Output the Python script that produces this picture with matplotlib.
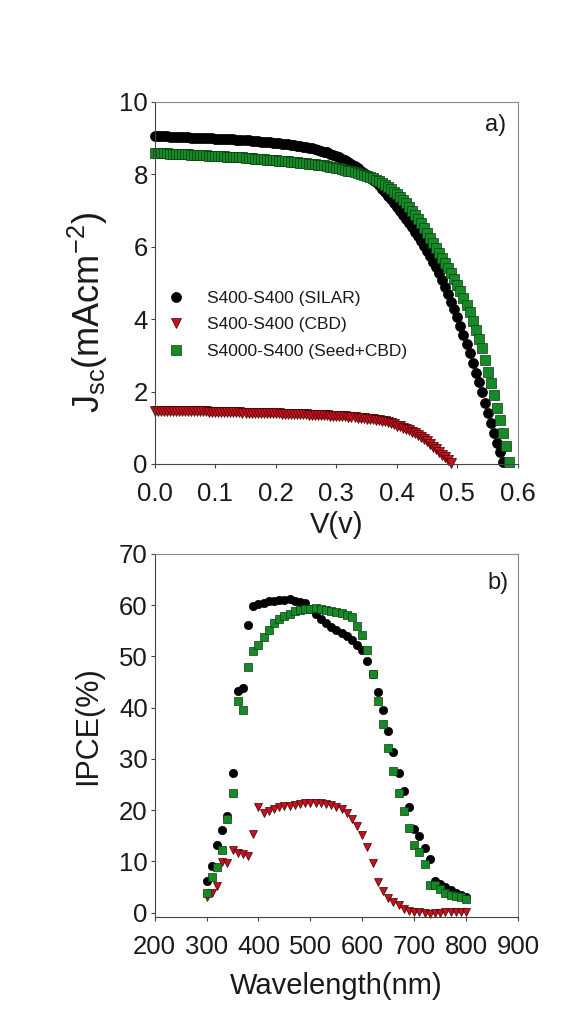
import numpy as np
import matplotlib
matplotlib.use('Agg')
import matplotlib.pyplot as plt

matplotlib.rcParams['font.family'] = 'Liberation Sans'
matplotlib.rcParams['mathtext.fontset'] = 'custom'
matplotlib.rcParams['mathtext.rm'] = 'Liberation Sans'
matplotlib.rcParams['mathtext.it'] = 'Liberation Sans:italic'

labels = ['S400-S400 (SILAR)', 'S400-S400 (CBD)', 'S4000-S400 (Seed+CBD)']

# ---- (a) J-V, voltage sweep from 0 V in 5 mV steps
v_step = 0.005
j_silar = [9.05, 9.05, 9.04, 9.04, 9.04, 9.03, 9.03, 9.03, 9.02, 9.02,
           9.02, 9.02, 9.01, 9.01, 9.01, 9.00, 9.00, 9.00, 8.99, 8.99,
           8.98, 8.98, 8.98, 8.97, 8.97, 8.96, 8.96, 8.95, 8.95, 8.94,
           8.93, 8.93, 8.92, 8.92, 8.91, 8.90, 8.90, 8.89, 8.88, 8.87,
           8.86, 8.85, 8.84, 8.83, 8.82, 8.81, 8.80, 8.79, 8.77, 8.76,
           8.74, 8.73, 8.71, 8.69, 8.67, 8.65, 8.62, 8.60, 8.57, 8.54,
           8.50, 8.46, 8.42, 8.38, 8.33, 8.28, 8.22, 8.16, 8.10, 8.04,
           7.98, 7.92, 7.85, 7.77, 7.69, 7.60, 7.50, 7.41, 7.31, 7.21,
           7.10, 6.99, 6.88, 6.77, 6.65, 6.53, 6.40, 6.28, 6.15, 6.01,
           5.87, 5.73, 5.58, 5.43, 5.27, 5.08, 4.88, 4.68, 4.48, 4.27,
           4.05, 3.81, 3.56, 3.31, 3.05, 2.78, 2.52, 2.25, 1.98, 1.69,
           1.40, 1.13, 0.85, 0.59, 0.33, 0.06]
j_cbd = [1.47, 1.47, 1.47, 1.47, 1.47, 1.46, 1.46, 1.46, 1.46, 1.46,
         1.46, 1.46, 1.45, 1.45, 1.45, 1.45, 1.45, 1.45, 1.44, 1.44,
         1.44, 1.44, 1.44, 1.44, 1.43, 1.43, 1.43, 1.43, 1.43, 1.42,
         1.42, 1.42, 1.42, 1.42, 1.41, 1.41, 1.41, 1.41, 1.40, 1.40,
         1.40, 1.40, 1.39, 1.39, 1.39, 1.38, 1.38, 1.38, 1.37, 1.37,
         1.37, 1.36, 1.36, 1.36, 1.35, 1.35, 1.34, 1.34, 1.33, 1.33,
         1.32, 1.32, 1.31, 1.31, 1.30, 1.29, 1.29, 1.28, 1.27, 1.26,
         1.25, 1.24, 1.23, 1.22, 1.21, 1.19, 1.18, 1.16, 1.13, 1.11,
         1.06, 1.04, 1.00, 0.97, 0.93, 0.89, 0.85, 0.80, 0.75, 0.69,
         0.63, 0.56, 0.48, 0.41, 0.34, 0.26, 0.18, 0.10, 0.02]
j_seed = [8.59, 8.59, 8.58, 8.58, 8.58, 8.57, 8.57, 8.56, 8.56, 8.55,
          8.55, 8.55, 8.54, 8.54, 8.53, 8.53, 8.52, 8.52, 8.51, 8.51,
          8.50, 8.50, 8.49, 8.49, 8.48, 8.48, 8.47, 8.47, 8.46, 8.46,
          8.45, 8.44, 8.44, 8.43, 8.42, 8.42, 8.41, 8.40, 8.40, 8.39,
          8.38, 8.37, 8.37, 8.36, 8.35, 8.34, 8.33, 8.33, 8.32, 8.31,
          8.30, 8.29, 8.28, 8.27, 8.26, 8.25, 8.24, 8.22, 8.21, 8.20,
          8.18, 8.16, 8.14, 8.12, 8.10, 8.08, 8.05, 8.03, 8.01, 7.98,
          7.95, 7.92, 7.88, 7.85, 7.80, 7.76, 7.71, 7.65, 7.58, 7.52,
          7.45, 7.37, 7.28, 7.19, 7.10, 6.99, 6.88, 6.77, 6.65, 6.52,
          6.38, 6.24, 6.10, 5.96, 5.83, 5.69, 5.55, 5.40, 5.26, 5.11,
          4.95, 4.77, 4.59, 4.40, 4.20, 3.96, 3.71, 3.46, 3.20, 2.88,
          2.55, 2.23, 1.90, 1.55, 1.20, 0.85, 0.50, 0.05]

# ---- (b) IPCE, 300-800 nm in 10 nm steps
wl = np.arange(300, 801, 10)
ipce_silar = [6.2, 9.1, 13.2, 16.2, 18.8, 27.3, 43.2, 43.8, 56.2, 59.8,
              60.2, 60.5, 60.8, 60.9, 61.0, 61.1, 61.3, 60.9, 60.7, 60.4,
              59.2, 58.3, 57.4, 56.6, 55.8, 55.1, 54.5, 53.9, 53.3, 52.3,
              51.2, 49.2, 46.5, 43.0, 39.6, 35.5, 31.4, 27.3, 23.8, 20.6,
              16.3, 15.0, 12.6, 10.5, 6.2, 5.6, 4.95, 4.4, 3.9, 3.4,
              3.0]
ipce_cbd = [3.0, 3.8, 5.1, 9.9, 9.6, 12.2, 11.7, 11.4, 11.0, 15.4,
            20.7, 19.5, 19.9, 20.3, 20.6, 20.8, 20.9, 21.1, 21.2, 21.4,
            21.4, 21.4, 21.3, 21.2, 21.0, 20.7, 20.2, 19.4, 18.3, 17.0,
            15.1, 12.9, 9.6, 6.0, 4.2, 2.9, 2.0, 1.4, 0.8, 0.4,
            0.2, 0.1, 0.0, -0.2, -0.1, 0.0, 0.1, 0.1, 0.1, 0.2,
            0.2]
ipce_seed = [3.9, 7.0, 9.0, 12.3, 18.2, 23.4, 41.4, 39.5, 48.0, 51.1,
             52.2, 53.8, 55.2, 56.6, 57.4, 57.9, 58.3, 58.8, 59.1, 59.3,
             59.3, 59.4, 59.3, 59.1, 58.8, 58.6, 58.4, 58.0, 57.6, 55.9,
             54.2, 51.3, 46.6, 41.3, 36.8, 32.1, 27.7, 23.4, 19.8, 16.5,
             13.2, 11.8, 9.5, 5.4, 5.4, 4.6, 3.9, 3.5, 3.2, 3.1,
             2.7]

markers = ['o', 'v', 's']
fills = ['black', '#c8101e', '#178a28']
edges = ['black', '#3a0000', '#0c3a12']
size_a = [7.2, 7.2, 6.6]
size_b = [6.0, 6.2, 5.4]

txt = '#1a1a1a'
fig = plt.figure(figsize=(5.64, 10.17), dpi=100)
ax1 = fig.add_axes([0.2743, 0.5438, 0.6441, 0.3562])
ax2 = fig.add_axes([0.2743, 0.0986, 0.6441, 0.3567])

for i, j in enumerate([j_silar, j_cbd, j_seed]):
    v = v_step * np.arange(len(j))
    ax1.plot(v, j, linestyle='none', label=labels[i], clip_on=False,
             marker=markers[i], ms=size_a[i], mfc=fills[i], mec=edges[i], mew=0.5)

for i, y in enumerate([ipce_silar, ipce_cbd, ipce_seed]):
    ax2.plot(wl, y, linestyle='none', clip_on=False,
             marker=markers[i], ms=size_b[i], mfc=fills[i], mec=edges[i], mew=0.5)

for ax in (ax1, ax2):
    for s in ('left', 'bottom'):
        ax.spines[s].set_color('#444444')
    for s in ('top', 'right'):
        ax.spines[s].set_color('#8a8a8a')
    for s in ax.spines.values():
        s.set_linewidth(0.8)
    ax.tick_params(direction='out', length=3, width=0.8, color='#444444',
                   labelsize=18.5, labelcolor=txt, top=False, right=False)
    ax.tick_params(axis='y', pad=2)
ax1.tick_params(axis='x', pad=10)
ax2.tick_params(axis='x', pad=10)

ax1.set_xlim(0, 0.6)
ax1.set_ylim(0, 10)
ax1.set_xticks(np.arange(0, 0.61, 0.1))
ax1.set_xticklabels(['%.1f' % t for t in np.arange(0, 0.61, 0.1)])
ax1.set_yticks(np.arange(0, 11, 2))
ax1.set_xlabel('V(v)', fontsize=21, color=txt, va='center')
ax1.xaxis.set_label_coords(0.5, -0.168)
ax1.set_ylabel(r'J$_{\mathregular{sc}}$(mAcm$^{\mathregular{-2}}$)',
               fontsize=26, color=txt, va='center')
ax1.yaxis.set_label_coords(-0.184, 0.417)
ax1.text(0.937, 0.936, 'a)', transform=ax1.transAxes, fontsize=17,
         color=txt, ha='center', va='center')
ax1.legend(loc='upper left', bbox_to_anchor=(0.035, 0.478), frameon=False,
           fontsize=12.5, handlelength=1.0, handletextpad=1.3,
           labelspacing=0.65, borderpad=0, borderaxespad=0, labelcolor=txt)

ax2.set_xlim(200, 900)
ax2.set_ylim(-0.8, 70)
ax2.set_xticks(np.arange(200, 901, 100))
ax2.set_yticks(np.arange(0, 71, 10))
ax2.set_xlabel('Wavelength(nm)', fontsize=21, color=txt, va='center')
ax2.xaxis.set_label_coords(0.5, -0.19)
ax2.set_ylabel('IPCE(%)', fontsize=22, color=txt, va='center')
ax2.yaxis.set_label_coords(-0.184, 0.528)
ax2.text(0.945, 0.92, 'b)', transform=ax2.transAxes, fontsize=17,
         color=txt, ha='center', va='center')

plt.savefig('out.png', dpi=100)
